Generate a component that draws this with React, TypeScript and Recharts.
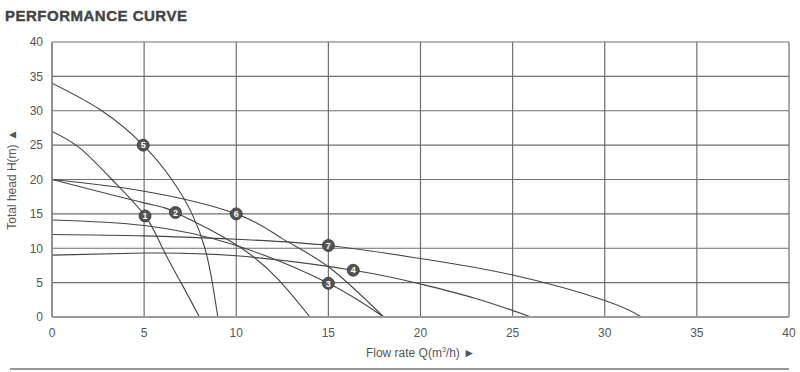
import { ComposedChart, Line, Scatter, XAxis, YAxis, CartesianGrid, Label } from 'recharts'

// flow rate Q (m3/h) vs total head H (m)
const curve1 = [
  { q: 0, h: 27 }, { q: 1.5, h: 24.6 }, { q: 3.25, h: 20 }, { q: 5.05, h: 14.7 },
  { q: 6, h: 10 }, { q: 7, h: 5 }, { q: 8, h: 0 },
]
const curve2 = [
  { q: 0, h: 20 }, { q: 5, h: 16.6 }, { q: 6.7, h: 15.2 }, { q: 10, h: 10.5 },
  { q: 12.3, h: 5.4 }, { q: 14, h: 0 },
]
const curve3 = [
  { q: 0, h: 14.1 }, { q: 5, h: 13.3 }, { q: 10, h: 10.4 }, { q: 15, h: 4.9 }, { q: 18, h: 0 },
]
const curve4 = [
  { q: 0, h: 9 }, { q: 5, h: 9.3 }, { q: 10, h: 8.9 }, { q: 16.35, h: 6.8 },
  { q: 20, h: 4.8 }, { q: 23, h: 2.7 }, { q: 26, h: 0 },
]
const curve5 = [
  { q: 0, h: 34 }, { q: 2.7, h: 30 }, { q: 4.95, h: 25 }, { q: 6.5, h: 20 },
  { q: 7.6, h: 15 }, { q: 8.3, h: 10 }, { q: 8.7, h: 5 }, { q: 9, h: 0 },
]
const curve6 = [
  { q: 0, h: 20 }, { q: 5, h: 18.3 }, { q: 10, h: 15 }, { q: 12.5, h: 11.4 },
  { q: 15, h: 7.3 }, { q: 18, h: 0 },
]
const curve7 = [
  { q: 0, h: 12 }, { q: 5, h: 11.8 }, { q: 10, h: 11.3 }, { q: 15, h: 10.4 },
  { q: 20, h: 8.5 }, { q: 25, h: 6.1 }, { q: 30, h: 2.4 }, { q: 32, h: 0 },
]
const curves = [curve1, curve2, curve3, curve4, curve5, curve6, curve7]

// numbered badges sitting on each curve
const markers = [
  { q: 5.05, h: 14.7, n: '1' },
  { q: 6.7, h: 15.2, n: '2' },
  { q: 15, h: 4.9, n: '3' },
  { q: 16.35, h: 6.8, n: '4' },
  { q: 4.95, h: 25, n: '5' },
  { q: 10, h: 15, n: '6' },
  { q: 15, h: 10.4, n: '7' },
]

const xTicks = [0, 5, 10, 15, 20, 25, 30, 35, 40]
const yTicks = [0, 5, 10, 15, 20, 25, 30, 35, 40]

const FONT = '"Liberation Sans", Arial, sans-serif'

const Badge = (props: any) => {
  const { cx, cy, payload } = props
  if (cx == null || cy == null) return null
  return (
    <g>
      <circle cx={cx} cy={cy} r={6} fill="#555" stroke="#2e2e2e" strokeWidth={0.8} />
      <text
        x={cx}
        y={cy}
        dy="0.36em"
        textAnchor="middle"
        fill="#fff"
        fontSize={9}
        fontWeight="bold"
        fontFamily={FONT}
      >
        {payload.n}
      </text>
    </g>
  )
}

export default function App() {
  return (
    <div style={{ position: 'absolute', left: 0, top: 0, width: 800, height: 372, background: '#fff', fontFamily: FONT }}>
      <div
        style={{
          position: 'absolute', left: 5, top: 7, fontSize: 15, fontWeight: 'bold',
          color: '#444', letterSpacing: 0.5, lineHeight: '18px',
          WebkitTextStroke: '0.4px #444',
        }}
      >
        PERFORMANCE CURVE
      </div>

      <ComposedChart width={800} height={372} margin={{ top: 42, right: 11, bottom: 10, left: 0 }}>
        <CartesianGrid stroke="#6e6e6e" strokeWidth={1.2} />
        <XAxis
          dataKey="q"
          type="number"
          domain={[0, 40]}
          ticks={xTicks}
          allowDataOverflow
          height={45}
          tickLine={false}
          tickSize={6}
          tickMargin={5}
          axisLine={{ stroke: '#9a9a9a', strokeWidth: 2 }}
          tick={{ fill: '#555', fontSize: 12, fontFamily: FONT }}
        >
          <Label
            content={({ viewBox }: any) => (
              <text
                x={viewBox.x + viewBox.width / 2}
                y={353}
                dy="0.35em"
                textAnchor="middle"
                fill="#555"
                fontSize={12}
                fontFamily={FONT}
              >
                Flow rate Q(m<tspan fontSize={7} dy={-5}>3</tspan><tspan dy={5}>/h) ►</tspan>
              </text>
            )}
          />
        </XAxis>
        <YAxis
          dataKey="h"
          type="number"
          domain={[0, 40]}
          ticks={yTicks}
          allowDataOverflow
          width={52}
          tickLine={false}
          tickSize={6}
          tickMargin={3}
          axisLine={{ stroke: '#8a8a8a', strokeWidth: 1.5 }}
          tick={{ fill: '#555', fontSize: 12, fontFamily: FONT }}
        >
          <Label
            content={({ viewBox }: any) => {
              const cy = viewBox.y + viewBox.height / 2
              return (
                <text
                  x={12}
                  y={cy}
                  dy="0.35em"
                  textAnchor="middle"
                  transform={`rotate(-90, 12, ${cy})`}
                  fill="#555"
                  fontSize={12}
                  fontFamily={FONT}
                >
                  Total head H(m) ▲
                </text>
              )
            }}
          />
        </YAxis>

        {curves.map((c, i) => (
          <Line
            key={`curve-${i}`}
            data={c}
            dataKey="h"
            type="natural"
            stroke="#444"
            strokeWidth={1.1}
            dot={false}
            activeDot={false}
            isAnimationActive={false}
          />
        ))}
        <Scatter data={markers} dataKey="h" shape={<Badge />} isAnimationActive={false} />
      </ComposedChart>

      {/* rule under the chart */}
      <div style={{ position: 'absolute', left: 10, top: 368, width: 779, height: 2, background: '#999' }} />
    </div>
  )
}
